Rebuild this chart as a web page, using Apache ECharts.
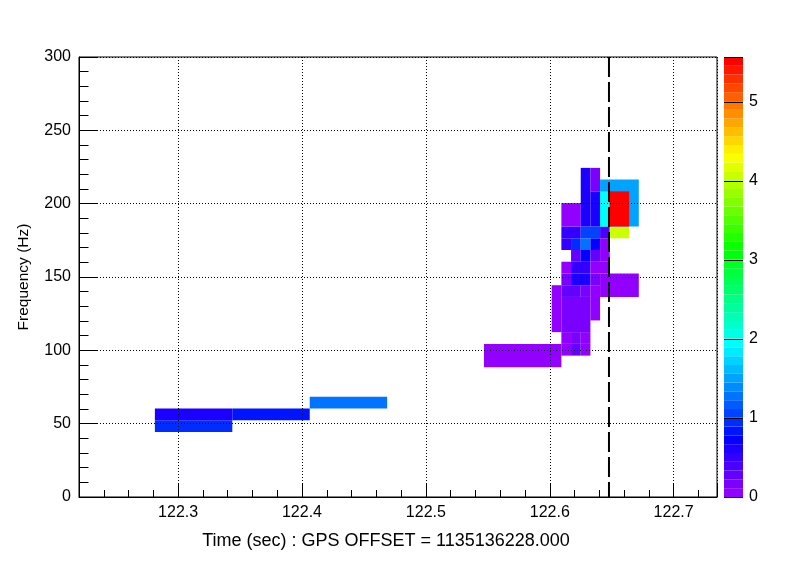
<!DOCTYPE html>
<html lang="en">

<head>
  <meta charset="UTF-8">
  <title>Omicron tiles</title>
  <style type="text/css">
    html, body { margin: 0; padding: 0; background: #fff; }
    #chart { width: 796px; height: 572px; }
  </style>
</head>

<body>
  <div id="chart"></div>
  <script src="https://cdn.jsdelivr.net/npm/echarts@6/dist/echarts.min.js"></script>
  <script type="text/javascript">

    // tiles: start/end time (s), low/high frequency (Hz), colour value
    var tileT0 = [
      122.28125, 122.28125, 122.34375, 122.40625,
      122.546875,
      122.609375, 122.6171875, 122.625,
      122.609375, 122.6171875, 122.625,
      122.6015625, 122.609375, 122.6328125,
      122.609375, 122.625,
      122.640625,
      122.609375, 122.6171875, 122.6328125,
      122.609375, 122.6171875, 122.6328125,
      122.6171875, 122.625, 122.6328125, 122.640625,
      122.609375, 122.6171875, 122.625, 122.6328125, 122.640625,
      122.609375, 122.625, 122.640625, 122.6484375,
      122.609375, 122.625, 122.6328125, 122.6328125,
      122.640625, 122.640625, 122.6484375
    ]
    var tileT1 = [
      122.34375, 122.34375, 122.40625, 122.46875,
      122.609375,
      122.6171875, 122.625, 122.6328125,
      122.6171875, 122.625, 122.6328125,
      122.609375, 122.6328125, 122.640625,
      122.625, 122.6328125,
      122.671875,
      122.6171875, 122.6328125, 122.640625,
      122.6171875, 122.6328125, 122.6484375,
      122.625, 122.6328125, 122.640625, 122.6484375,
      122.6171875, 122.625, 122.6328125, 122.640625, 122.6484375,
      122.625, 122.640625, 122.6484375, 122.6640625,
      122.625, 122.6328125, 122.640625, 122.640625,
      122.671875, 122.6484375, 122.6640625
    ]
    var tileF0 = [
      44.4, 52.4, 52.4, 60.4,
      88.4,
      96.4, 96.4, 96.4,
      104.4, 104.4, 104.4,
      112.4, 112.4, 120.4,
      136.4, 136.4,
      136.4,
      144.4, 144.4, 144.4,
      152.4, 152.4, 152.4,
      160.4, 160.4, 160.4, 160.4,
      168.4, 168.4, 168.4, 168.4, 168.4,
      176.4, 176.4, 176.4, 176.4,
      184.4, 184.4, 184.4, 208.4,
      184.4, 184.4, 184.4
    ]
    var tileF1 = [
      52.4, 60.4, 60.4, 68.4,
      104.4,
      104.4, 104.4, 104.4,
      112.4, 112.4, 112.4,
      144.4, 136.4, 144.4,
      144.4, 144.4,
      152.4,
      152.4, 152.4, 152.4,
      160.4, 160.4, 160.4,
      168.4, 168.4, 168.4, 168.4,
      176.4, 176.4, 176.4, 176.4, 176.4,
      184.4, 184.4, 184.4, 184.4,
      200.4, 224.4, 208.4, 224.4,
      216.4, 208.4, 208.4
    ]
    var tileZ = [
      0.95, 0.61, 0.84, 1.28,
      0.06,
      0.06, 0.28, 0.06,
      0.06, 0.17, 0.06,
      0.06, 0.17, 0.06,
      0.28, 0.17,
      0.06,
      0.17, 0.61, 0.17,
      0.06, 0.50, 0.06,
      0.28, 0.72, 0.28, 0.06,
      0.50, 0.95, 1.28, 0.72, 0.06,
      0.50, 1.06, 0.39, 4.07,
      0.06, 0.61, 0.61, 0.17,
      1.50, 1.95, 5.51
    ]

    var eventTime = [122.6478]
    var yTicks = [0, 50, 100, 150, 200, 250, 300]
    var zMax = 5.57
    var nColors = 50

    // ROOT "pretty" palette: hue 280 -> 0, lightness 0.5, saturation 1
    function hueToHex (h) {
      function f (n) {
        var k = (n + h / 30) % 12
        var v = 0.5 - 0.5 * Math.max(-1, Math.min(k - 3, 9 - k, 1))
        var s = Math.round(v * 255).toString(16)
        return s.length < 2 ? '0' + s : s
      }
      return '#' + f(0) + f(8) + f(4)
    }

    var pieces = []
    var bands = []
    for (var i = 0; i < nColors; i++) {
      var lo = i * zMax / nColors
      var hi = (i + 1) * zMax / nColors
      pieces.push({ gte: lo, lt: hi, color: hueToHex(280 - (i + 1) * 280 / nColors) })
      bands.push([0, 1, lo, hi, (lo + hi) / 2])
    }
    pieces[nColors - 1].lte = zMax + 1
    delete pieces[nColors - 1].lt

    var tiles = tileZ.map(function (z, i) {
      return [tileT0[i], tileT1[i], tileF0[i], tileF1[i], z]
    })

    function renderRect (params, api) {
      var p0 = api.coord([api.value(0), api.value(3)])
      var p1 = api.coord([api.value(1), api.value(2)])
      return {
        type: 'rect',
        shape: { x: p0[0], y: p0[1], width: p1[0] - p0[0], height: p1[1] - p0[1] },
        style: { fill: api.visual('color') }
      }
    }

    var font = 'Liberation Sans, Arial, Helvetica, sans-serif'
    var dotted = { show: true, lineStyle: { color: '#000', width: 1, type: [1, 2] } }

    var myChart = echarts.init(document.getElementById('chart'))
    var option = {
      animation: false,
      backgroundColor: '#fff',
      textStyle: { fontFamily: font, color: '#000' },
      grid: [
        { left: 79, top: 57, width: 638, height: 440, show: true, borderColor: '#000', borderWidth: 1 },
        { left: 724, top: 57, width: 19, height: 440 }
      ],
      visualMap: {
        type: 'piecewise',
        show: false,
        dimension: 4,
        seriesIndex: [0, 1],
        pieces: pieces
      },
      xAxis: [
        {
          type: 'value',
          gridIndex: 0,
          position: 'bottom',
          min: 122.22,
          max: 122.735,
          splitNumber: 5,
          z: 4,
          name: 'Time (sec) : GPS OFFSET = 1135136228.000',
          nameLocation: 'middle',
          nameGap: 35,
          nameTextStyle: { fontSize: 18, color: '#000', fontFamily: font, padding: [0, 24, 0, 0] },
          axisLine: { show: true, onZero: false, lineStyle: { color: '#000', width: 1 } },
          axisTick: { show: true, inside: true, length: 13, lineStyle: { color: '#000' } },
          axisLabel: {
            fontSize: 16, color: '#000', margin: 8,
            formatter: function (v) {
              return Math.abs(v * 10 - Math.round(v * 10)) < 1e-6 ? v.toFixed(1) : ''
            }
          },
          splitLine: dotted
        },
        {
          type: 'value',
          gridIndex: 0,
          position: 'bottom',
          min: 122.22,
          max: 122.735,
          interval: 0.02,
          z: 4,
          axisLine: { show: false, onZero: false },
          axisTick: { show: true, inside: true, length: 7, lineStyle: { color: '#000' } },
          axisLabel: { show: false },
          splitLine: { show: false }
        },
        {
          type: 'value',
          gridIndex: 1,
          min: 0,
          max: 1,
          show: false
        }
      ],
      yAxis: [
        {
          type: 'value',
          gridIndex: 0,
          position: 'left',
          min: yTicks[0],
          max: yTicks[yTicks.length - 1],
          interval: 50,
          z: 4,
          name: 'Frequency (Hz)',
          nameLocation: 'middle',
          nameGap: 47,
          nameTextStyle: { fontSize: 15.5, color: '#000', fontFamily: font },
          axisLine: { show: true, onZero: false, lineStyle: { color: '#000', width: 1 } },
          axisTick: { show: true, inside: true, length: 19, lineStyle: { color: '#000' } },
          minorTick: { show: true, splitNumber: 5, length: 9.5, lineStyle: { color: '#000' } },
          axisLabel: { fontSize: 16, color: '#000', margin: 8 },
          splitLine: dotted
        },
        {
          type: 'value',
          gridIndex: 1,
          position: 'right',
          min: 0,
          max: zMax,
          interval: 1,
          z: 4,
          axisLine: { show: false, onZero: false },
          axisTick: { show: true, inside: true, length: 19, lineStyle: { color: '#000' } },
          axisLabel: {
            fontSize: 16, color: '#000', margin: 6,
            formatter: function (v) { return Math.abs(v - Math.round(v)) < 1e-6 ? String(Math.round(v)) : '' }
          },
          splitLine: { show: false }
        }
      ],
      series: [
        {
          type: 'custom',
          xAxisIndex: 0,
          yAxisIndex: 0,
          z: 2,
          renderItem: renderRect,
          encode: { x: [0, 1], y: [2, 3] },
          data: tiles
        },
        {
          type: 'custom',
          xAxisIndex: 2,
          yAxisIndex: 1,
          z: 2,
          renderItem: renderRect,
          encode: { x: [0, 1], y: [2, 3] },
          data: bands
        },
        {
          type: 'line',
          xAxisIndex: 0,
          yAxisIndex: 0,
          z: 10,
          symbol: 'none',
          silent: true,
          lineStyle: { color: '#000', width: 2, type: [20, 5] },
          data: [[eventTime[0], yTicks[yTicks.length - 1]], [eventTime[0], yTicks[0]]]
        }
      ]
    }
    myChart.setOption(option)
  </script>
</body>

</html>
